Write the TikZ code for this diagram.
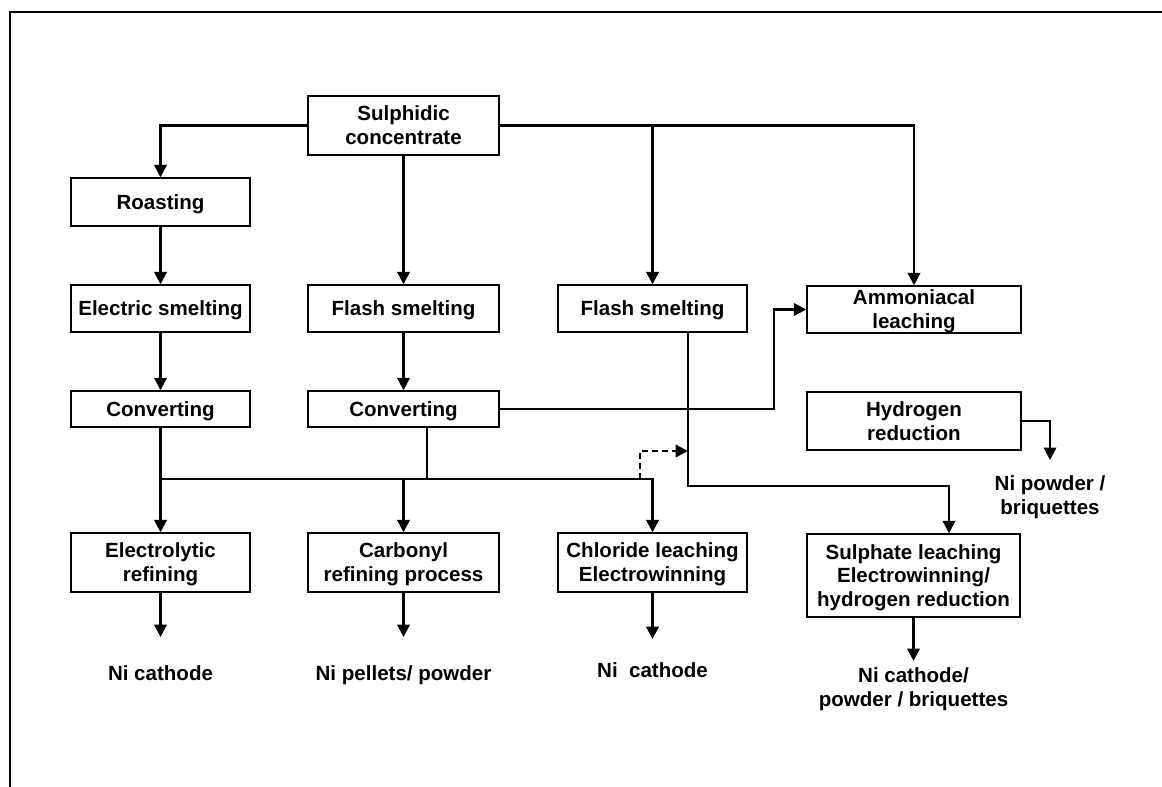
\documentclass[tikz,border=0pt]{standalone}
\usepackage{fontspec}
\setmainfont{Liberation Sans}
\usetikzlibrary{arrows.meta}

\newcommand{\flowfont}{\fontsize{14.6pt}{17pt}\selectfont\bfseries}

\begin{document}
\begin{tikzpicture}[
    x=0.025cm, y=-0.025cm,
    box/.style 2 args={rectangle, draw, line width=1pt, inner sep=0pt, minimum width=#1, minimum height=#2, text depth=0pt, align=center, font=\flowfont},
    prod/.style={inner sep=0pt, outer ysep=#1, anchor=north, align=center, font=\flowfont},
    arrow/.style={-{Triangle[length=0.31cm, width=0.31cm]}, line width=1.7pt},
    tap/.style={line width=0.8pt}
]
    \useasboundingbox (0,0) rectangle (1162,787);
    \draw[line width=1.6pt] (10,787) -- (10,12) -- (1162,12);

    % Procedes
    \node[box={4.775cm}{1.475cm}] (conc) at (403.5,125.5) {Sulphidic\\concentrate};
    \node[box={4.475cm}{1.2cm}] (roast) at (160.5,202) {Roasting};
    \node[box={4.475cm}{1.175cm}] (esmelt) at (160.5,308.5) {Electric smelting};
    \node[box={4.775cm}{1.175cm}] (fsmelt) at (403.5,308.5) {Flash smelting};
    \node[box={4.725cm}{1.175cm}] (fsmeltb) at (652.5,308.5) {Flash smelting};
    \node[box={5.35cm}{1.175cm}] (ammon) at (914,309.5) {Ammoniacal\\leaching};
    \node[box={4.475cm}{0.9cm}] (conva) at (160.5,409) {Converting};
    \node[box={4.775cm}{0.9cm}] (convb) at (403.5,409) {Converting};
    \node[box={5.35cm}{1.45cm}] (hydro) at (914,421) {Hydrogen\\reduction};
    \node[box={4.475cm}{1.475cm}] (elec) at (160.5,562.5) {Electrolytic\\refining};
    \node[box={4.775cm}{1.475cm}] (carb) at (403.5,562.5) {Carbonyl\\refining process};
    \node[box={4.725cm}{1.475cm}] (chlor) at (652.5,562.5) {Chloride leaching\\Electrowinning};
    \node[box={5.325cm}{2.075cm}] (sulph) at (913.5,575.5) {Sulphate leaching\\Electrowinning/\\hydrogen reduction};

    % Produits
    \node[prod=0.725cm] (nia) at (160.5,637) {Ni cathode};
    \node[prod=0.725cm] (nib) at (403.5,637) {Ni pellets/ powder};
    \node[prod=0.6cm] (nic) at (652.5,639) {Ni\ \ cathode};
    \node[prod=0.175cm] (nid) at (913.5,661) {Ni cathode/\\powder / briquettes};
    \node[prod=0.4cm] (nie) at (1050,460) {Ni powder /\\briquettes};

    % Points de liaison
    \coordinate (bus) at (161,479);
    \coordinate (tap) at (427,479);
    \coordinate (jog) at (774,409);
    \coordinate (split) at (688,486);
    \coordinate (sin) at (949,486);
    \coordinate (dbeg) at (640,479);
    \coordinate (dend) at (688,451);

    % Flux
    \draw[arrow] (conc.west) -| (roast.north);
    \draw[arrow] (conc.east) -| (ammon.north);
    \draw[arrow] (fsmeltb.north |- conc.east) -- (fsmeltb.north);
    \draw[arrow] (conc.south) -- (fsmelt.north);
    \draw[arrow] (roast.south) -- (esmelt.north);
    \draw[arrow] (esmelt.south) -- (conva.north);
    \draw[arrow] (fsmelt.south) -- (convb.north);
    \draw[arrow] (conva.south) -- (elec.north);
    \draw[arrow] (bus) -| (chlor.north);
    \draw[arrow] (bus -| carb.north) -- (carb.north);
    \draw[tap] (convb.south -| tap) -- (tap);
    \draw[arrow] (convb.east) -- (jog) |- (ammon.west);
    \draw[arrow] (fsmeltb.south -| split) -- (split) -| (sulph.north -| sin);
    \draw[arrow, dash pattern=on 0.15cm off 0.1cm] (dbeg) |- (dend);
    \draw[arrow] (hydro.east) -| (nie.north);

    % Sorties
    \foreach \p/\q in {elec/nia, carb/nib, chlor/nic, sulph/nid} {
        \draw[arrow] (\p.south) -- (\q.north);
    }

\end{tikzpicture}
\end{document}
